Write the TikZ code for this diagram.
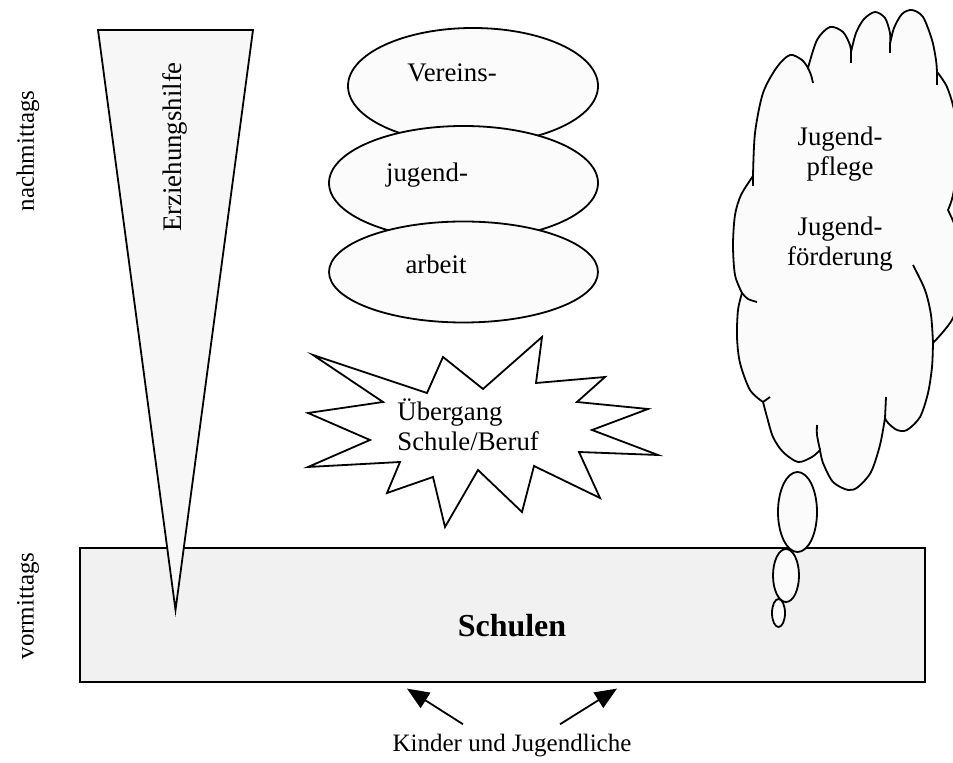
\documentclass[tikz,border=0pt]{standalone}
\usepackage{fontspec}
\setmainfont{Liberation Serif}
\usetikzlibrary{arrows.meta,shapes.geometric}

\begin{document}
\begin{tikzpicture}[x=0.5pt, y=-0.5pt,
    every node/.style={inner sep=0pt, font=\fontsize{12.5}{15}\selectfont},
    innen/.style={font=\fontsize{13.4}{15}\selectfont},
    rand/.style={draw=black, line width=0.9pt},
    oval/.style={rand, ellipse, fill=gray!3},
    pfeil/.style={line width=0.9pt, -{Triangle[length=11pt, width=9pt]}}]
    \clip (0,0) rectangle (953,763);

    % Schulen
    \node[draw, line width=0.6pt, fill=gray!11, minimum width=422.5pt, minimum height=67pt] (schule) at (502.5,615) {};

    % Erziehungshilfe
    \filldraw[rand, fill=gray!6] (98,30) -- (253,30) -- (175.5,610) -- cycle;
    \node[innen, rotate=90] (erz) at (175,147) {Erziehungshilfe};

    % Vereinsjugendarbeit
    \foreach \nm/\x/\y/\w/\h in {verein/473/86/125/58, jugend/463.5/183/134.5/57, arbeit/463.5/272/134.5/50.5}
        \node[oval, minimum width=\w pt, minimum height=\h pt] (\nm) at (\x,\y) {};
    \foreach \nm/\x/\y/\txt in {tverein/452/82/Vereins-, tjugend/427/182/jugend-, tarbeit/436/274/arbeit}
        \node[innen, anchor=base] (\nm) at (\x,\y) {\txt};

    % Uebergang
    \filldraw[rand, fill=white] plot coordinates {(313,355) (427,393) (443,357) (483,389) (542,337) (536,383)
        (605,377) (577,402) (648,409) (592,430) (658,455) (579,452) (600,498) (534,466) (522,512)
        (478,470) (445,527) (433,477) (387,493) (400,462) (308,467) (370,440) (308,413) (383,402)} -- cycle;
    \node[innen, align=left, anchor=west] (ueber) at (397,425) {Übergang\\Schule/Beruf};

    % Wolke
    \filldraw[rand, fill=gray!3]
        plot[smooth] coordinates {(753,176) (755,133) (763,93) (777,67) (790,55) (802,60) (808,68)}
        -- plot[smooth] coordinates {(808,68) (817,40) (830,27) (843,32) (850,45) (851,52)}
        -- plot[smooth] coordinates {(851,52) (856,33) (864,19) (875,12) (885,18) (890,33) (890,44)}
        -- plot[smooth] coordinates {(890,44) (894,28) (902,14) (912,10) (923,17) (932,40) (936,60) (937,72)}
        -- plot[smooth] coordinates {(937,72) (947,87) (955,115) (958,160) (953,195) (948,210)}
        -- plot[smooth] coordinates {(948,210) (960,240) (963,280) (953,318) (933,343)}
        -- plot[smooth] coordinates {(933,343) (932,367) (928,393) (920,417) (907,430) (897,430) (888,423) (885,418)}
        -- plot[smooth] coordinates {(885,418) (880,445) (871,472) (858,487) (848,490) (833,482) (823,463) (820,450)}
        -- plot[smooth] coordinates {(820,450) (812,457) (798,462) (783,452) (773,437) (767,417) (763,402)}
        -- plot[smooth] coordinates {(763,402) (750,390) (740,363) (737,337) (738,310) (742,293)}
        -- plot[smooth] coordinates {(742,293) (735,275) (733,245) (735,215) (741,195) (753,176)} -- cycle;
    \draw[rand]
        plot coordinates {(753,176) (753,186)}
        plot[smooth] coordinates {(808,68) (811,75) (813,83)}
        plot coordinates {(851,52) (851,63)}
        plot coordinates {(890,44) (890,53)}
        plot coordinates {(937,72) (937,85)}
        plot[smooth] coordinates {(913,265) (925,290) (931,315) (933,343)}
        plot coordinates {(885,418) (886,397)}
        plot[smooth] coordinates {(820,450) (817,435) (817,425)}
        plot coordinates {(763,402) (770,397)}
        plot[smooth] coordinates {(742,293) (748,299) (757,302)};
    \node[innen, align=center] (wtext) at (840,199) {Jugend-\\pflege\\[15pt]Jugend-\\förderung};

    % Gedankenblasen
    \foreach \nm/\x/\y/\w/\h in {blase1/797.5/512/19.5/40, blase2/786/575.5/13/26.5, blase3/778.5/613/6.5/14}
        \node[oval, minimum width=\w pt, minimum height=\h pt] (\nm) at (\x,\y) {};

    \node[anchor=base, font=\fontsize{16}{19}\selectfont\bfseries] (stext) at (512,637) {Schulen};

    % Tageszeiten
    \node[rotate=90] (nachm) at (28,151) {nachmittags};
    \node[rotate=90] (vorm) at (28,606) {vormittags};

    % Kinder und Jugendliche
    \node[anchor=base] (kids) at (512,752) {Kinder und Jugendliche};
    \draw[pfeil] ([xshift=-24.5pt, yshift=5pt]kids.north) -- ([xshift=-47.75pt, yshift=-3pt]schule.south);
    \draw[pfeil] ([xshift=24pt, yshift=5pt]kids.north) -- ([xshift=57.25pt, yshift=-3pt]schule.south);
\end{tikzpicture}
\end{document}
